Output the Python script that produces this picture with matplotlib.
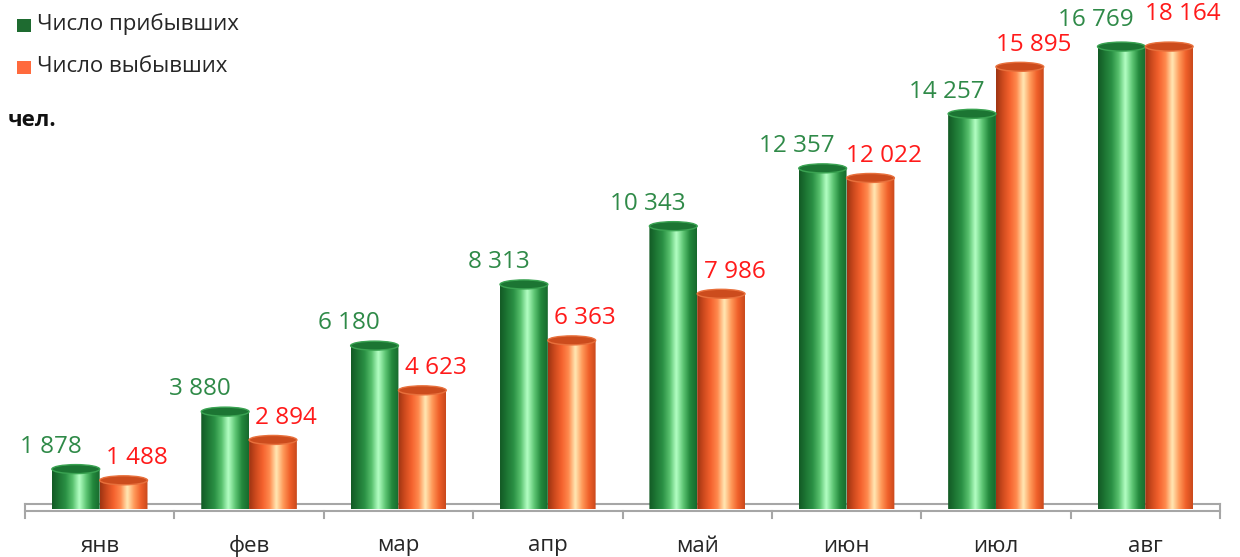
import numpy as np
import matplotlib
matplotlib.use("Agg")
import matplotlib.pyplot as plt
from matplotlib.colors import LinearSegmentedColormap
from matplotlib.patches import Ellipse, Polygon, Rectangle

# data
months = ["янв", "фев", "мар", "апр", "май", "июн", "июл", "авг"]
arrived = [1878, 3880, 6180, 8313, 10343, 12357, 14257, 16769]
departed = [1488, 2894, 4623, 6363, 7986, 12022, 15895, 18164]
series_names = ["Число прибывших", "Число выбывших"]

plt.rcParams['font.family'] = ['Open Sans', 'DejaVu Sans']

W, H = 1240, 557
fig = plt.figure(figsize=(W / 100, H / 100), dpi=100)

# axes placed in pixel terms: value 0 at y=523px, 0.0287 px per person
ax_left, ax_right = 25, 1220
ax_bot = 523
px_per_unit = 0.0287
ymax = 18000
ax_top = ax_bot - ymax * px_per_unit
ax = fig.add_axes([ax_left / W, 1 - ax_bot / H, (ax_right - ax_left) / W, (ax_bot - ax_top) / H])
ax.set_xlim(-0.5, len(months) - 0.5)
ax.set_ylim(0, ymax)
ax.axis("off")

bar_w = 0.32
cap_h = 9 / px_per_unit          # ellipse height in data units
bar_base = 480                   # where cylinders sit (floor)
bar_max = 16600                  # top of visible wall, taller bars are cut
label_max = 16950

green_cmap = LinearSegmentedColormap.from_list(
    "g", ["#135a25", "#1d7634", "#2b9145", "#57c06d", "#b4ffc4", "#5fc775", "#23883c", "#176a2d"])
orange_cmap = LinearSegmentedColormap.from_list(
    "o", ["#9e3412", "#cf4b1e", "#f5622e", "#ff8a4e", "#ffe8b4", "#ff9a5a", "#f0602a", "#c9491c"])
grad = np.linspace(0, 1, 200).reshape(1, -1)


def cylinder(xc, top, cmap, cap_color, rim_color):
    x0, x1 = xc - bar_w / 2, xc + bar_w / 2
    im = ax.imshow(grad, cmap=cmap, extent=(x0, x1, bar_base, top), aspect="auto",
                   interpolation="bicubic", zorder=2)
    xs = np.linspace(x1, x0, 40)
    ys = bar_base - (cap_h / 2) * np.sqrt(np.clip(1 - ((xs - xc) / (bar_w / 2)) ** 2, 0, 1))
    pts = [(x0, top), (x1, top)] + list(zip(xs, ys))
    clip = Polygon(pts, closed=True, transform=ax.transData, facecolor="none", edgecolor="none")
    ax.add_patch(clip)
    im.set_clip_path(clip)
    ax.add_patch(Ellipse((xc, top), bar_w, cap_h, facecolor=cap_color,
                         edgecolor=rim_color, lw=1.0, zorder=3))


x = np.arange(len(months))
for i in range(len(months)):
    g_top = min(arrived[i], bar_max)
    o_top = min(departed[i], bar_max)
    cylinder(x[i] - bar_w / 2, g_top, green_cmap, "#1c7533", "#3aa352")
    cylinder(x[i] + bar_w / 2, o_top, orange_cmap, "#cc4c1d", "#e8703c")
    ax.annotate(f"{arrived[i]:,}".replace(",", " "), (x[i] - 0.33, min(arrived[i], label_max)),
                xytext=(0, 16), textcoords="offset points", ha="center", va="center",
                fontsize=17.5, color="#2f8a48", annotation_clip=False)
    ax.annotate(f"{departed[i]:,}".replace(",", " "), (x[i] + 0.25, min(departed[i], label_max)),
                xytext=(0, 16), textcoords="offset points", ha="center", va="center",
                fontsize=17.5, color="#ff1a1a", annotation_clip=False)

# floor of the 3d chart
floor_back = (ax_bot - 504) / px_per_unit
floor_front = (ax_bot - 511) / px_per_unit
tick_end = (ax_bot - 518) / px_per_unit
fc = "#a6a6a6"
ax.plot([-0.5, len(months) - 0.5], [floor_back, floor_back], color=fc, lw=1.5, zorder=1, clip_on=False)
ax.plot([-0.5, len(months) - 0.5], [floor_front, floor_front], color=fc, lw=1.5, zorder=1, clip_on=False)
for b in np.arange(-0.5, len(months), 1.0):
    lo = tick_end
    hi = floor_back if b in (-0.5, len(months) - 0.5) else floor_front
    ax.plot([b, b], [lo, hi], color=fc, lw=1.5, zorder=1, clip_on=False)

for i, m in enumerate(months):
    ax.text(x[i], (ax_bot - 546) / px_per_unit, m, ha="center", va="center",
            fontsize=16, color="#262626", clip_on=False)

# legend
fig.add_artist(Rectangle((17 / W, 1 - 32 / H), 14 / W, 13 / H, transform=fig.transFigure,
                         facecolor="#1e6b30", edgecolor="none"))
fig.add_artist(Rectangle((17 / W, 1 - 74 / H), 14 / W, 13 / H, transform=fig.transFigure,
                         facecolor="#ff6a3d", edgecolor="none"))
fig.text(37 / W, 1 - 24 / H, series_names[0], ha="left", va="center", fontsize=16, color="#262626")
fig.text(37 / W, 1 - 66 / H, series_names[1], ha="left", va="center", fontsize=16, color="#262626")
fig.text(8 / W, 1 - 121 / H, "чел.", ha="left", va="center", fontsize=16, fontweight="bold", color="#111111")

fig.savefig("out.png", dpi=100)
